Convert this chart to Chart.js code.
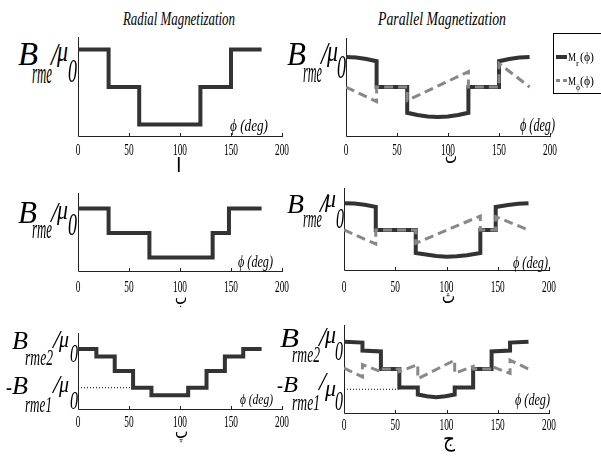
<!DOCTYPE html>
<html>
<head>
<meta charset="utf-8">
<script src="https://cdn.jsdelivr.net/npm/chart.js@4.4.0/dist/chart.umd.min.js"></script>
<style>
body { margin: 0; background: #fff; }
#fig { position: relative; width: 601px; height: 457px; overflow: hidden; background: #fff; }
canvas { position: absolute; }
.t { position: absolute; white-space: nowrap; line-height: 1; transform-origin: 0 0; font-family: 'Liberation Serif', serif; color: #000; }
</style>
</head>
<body>
<div id="fig"></div>
<script>
const xTicks = [0, 50, 100, 150, 200];

// radial magnetization, first case
const radPhiA = [0, 30, 30, 60, 60, 120, 120, 150, 150, 180];
const radBA = [1, 1, 0, 0, -1, -1, 0, 0, 1, 1];

// parallel magnetization, first case
const parPhiRA = [0, 10, 20, 30, 30, 60, 60, 70, 80, 90, 100, 110, 120, 120, 150, 150, 160, 170, 180];
const parMrA = [0.8, 0.79, 0.75, 0.69, 0, 0, -0.69, -0.75, -0.79, -0.8, -0.79, -0.75, -0.69, 0, 0, 0.69, 0.75, 0.79, 0.8];
const parPhiTA = [0, 30, 30, 60, 60, 120, 120, 150, 150, 180];
const parMtA = [0, -0.39, 0, 0, -0.36, 0.41, 0, 0, 0.63, 0];

// radial, second case
const radPhiB = [0, 30, 30, 70, 70, 132, 132, 148, 148, 180];
const radBB = [1, 1, 0, 0, -1, -1, 0, 0, 1, 1];

// parallel, second case
const parPhiRB = [0, 10, 20, 31, 31, 70, 70, 80, 90, 100, 110, 120, 133, 133, 148, 148, 160, 170, 180];
const parMrB = [1.09, 1.08, 1.03, 0.94, 0, 0, -0.94, -1.0, -1.06, -1.09, -1.07, -1.03, -0.94, 0, 0, 0.94, 1.02, 1.07, 1.09];
const parPhiTB = [0, 31, 31, 70, 70, 133, 133, 148, 148, 180];
const parMtB = [0, -0.57, 0, 0, -0.54, 0.57, 0, 0, 0.54, 0];

// radial, two level case
const radPhiC = [0, 18, 18, 36, 36, 54, 54, 72, 72, 108, 108, 126, 126, 144, 144, 162, 162, 180];
const radBC = [0.79, 0.79, 0.69, 0.69, 0.5, 0.5, 0.28, 0.28, 0.18, 0.18, 0.28, 0.28, 0.5, 0.5, 0.69, 0.69, 0.79, 0.79];
const refPhiC = [0, 54];
const refBC = [0.28, 0.28];

// parallel, two level case
const parPhiRC = [0, 18, 18, 36, 36, 54, 54, 72, 72, 81, 90, 99, 108, 108, 126, 126, 144, 144, 162, 162, 180];
const parMrC = [0.81, 0.8, 0.71, 0.7, 0.5, 0.5, 0.29, 0.29, 0.21, 0.19, 0.18, 0.19, 0.21, 0.29, 0.29, 0.5, 0.5, 0.7, 0.71, 0.8, 0.81];
const parPhiTC = [0, 18, 18, 36, 36, 54, 54, 72, 72, 108, 108, 126, 126, 144, 144, 162, 162, 180];
const parMtC = [0.51, 0.41, 0.55, 0.47, 0.5, 0.5, 0.47, 0.55, 0.39, 0.6, 0.45, 0.53, 0.5, 0.5, 0.53, 0.45, 0.6, 0.5];
const refPhiD = [0, 54];
const refBD = [0.27, 0.27];

const fig = document.getElementById('fig');

function pts(xs, ys) {
    return xs.map((x, i) => ({ x: x, y: ys[i] }));
}

function solid(xs, ys) {
    return { data: pts(xs, ys), borderColor: '#333', borderWidth: 4, borderJoinStyle: 'miter', borderCapStyle: 'butt', order: 2 };
}
function dashed(xs, ys) {
    return { data: pts(xs, ys), borderColor: '#888', borderWidth: 3, borderDash: [9, 5], borderCapStyle: 'butt', order: 1 };
}
function dotted(xs, ys) {
    return { data: pts(xs, ys), borderColor: '#000', borderWidth: 1, borderDash: [1, 2], order: 3 };
}

// text piece: left edge, baseline, font size, target width (squeezed like the original)
function txt(s, left, base, size, width, italic, family) {
    const e = document.createElement('span');
    e.className = 't';
    e.textContent = s;
    e.style.fontSize = size + 'px';
    if (italic) e.style.fontStyle = 'italic';
    if (family) e.style.fontFamily = family;
    e.style.left = left + 'px';
    e.style.top = (base - 0.8375 * size) + 'px';
    fig.appendChild(e);
    if (width) {
        const w = e.getBoundingClientRect().width;
        e.style.transform = 'scaleX(' + (width / w) + ')';
    }
    return e;
}

function axesPlugin(p) {
    return {
        id: 'axes',
        beforeDatasetsDraw(chart) {
            const ctx = chart.ctx;
            const a = chart.chartArea;
            const x = chart.scales.x;
            ctx.save();
            ctx.strokeStyle = '#222';
            ctx.lineWidth = 1;
            ctx.beginPath();
            ctx.moveTo(a.left + 0.5, a.top);
            ctx.lineTo(a.left + 0.5, a.bottom + 0.5);
            ctx.lineTo(x.getPixelForValue(200) + 1, a.bottom + 0.5);
            xTicks.forEach(v => {
                const px = Math.round(x.getPixelForValue(v)) + 0.5;
                ctx.moveTo(px, a.bottom);
                ctx.lineTo(px, a.bottom - 3);
            });
            ctx.stroke();
            ctx.fillStyle = '#000';
            ctx.font = '17px "Liberation Serif"';
            ctx.textAlign = 'center';
            xTicks.forEach(v => {
                ctx.save();
                ctx.translate(x.getPixelForValue(v), a.bottom + p.tickOff);
                ctx.scale(0.55, 1);
                ctx.fillText(String(v), 0, 0);
                ctx.restore();
            });
            ctx.restore();
        }
    };
}

function makePanel(p) {
    const padL = 6, padR = 10, padT = 4, padB = 26;
    const c = document.createElement('canvas');
    c.width = p.R - p.L + padL + padR;
    c.height = p.B - p.T + padT + padB;
    c.style.left = (p.L - padL) + 'px';
    c.style.top = (p.T - padT) + 'px';
    fig.appendChild(c);
    new Chart(c, {
        type: 'line',
        data: { datasets: p.sets },
        options: {
            responsive: false,
            animation: false,
            layout: { padding: { left: padL, right: padR, top: padT, bottom: padB } },
            plugins: { legend: { display: false }, tooltip: { enabled: false } },
            elements: { point: { radius: 0 }, line: { tension: 0 } },
            scales: {
                x: { type: 'linear', min: 0, max: 200, display: false },
                y: { min: p.yMin, max: p.yMax, display: false }
            }
        },
        plugins: [axesPlugin(p)]
    });
}

makePanel({ L: 78, R: 282, T: 37, B: 136, yMin: -1.31, yMax: 1.33, tickOff: 19,
    sets: [solid(radPhiA, radBA)] });
makePanel({ L: 346, R: 550, T: 38, B: 136, yMin: -1.31, yMax: 1.31, tickOff: 19,
    sets: [solid(parPhiRA, parMrA), dashed(parPhiTA, parMtA)] });
makePanel({ L: 78, R: 282, T: 193, B: 271, yMin: -1.55, yMax: 1.63, tickOff: 21,
    sets: [solid(radPhiB, radBB)] });
makePanel({ L: 344, R: 549, T: 188, B: 270, yMin: -1.63, yMax: 1.71, tickOff: 22,
    sets: [solid(parPhiRB, parMrB), dashed(parPhiTB, parMtB)] });
makePanel({ L: 78, R: 282, T: 333, B: 409, yMin: 0, yMax: 1, tickOff: 18,
    sets: [solid(radPhiC, radBC), dotted(refPhiC, refBC)] });
makePanel({ L: 344, R: 549, T: 325, B: 413, yMin: 0, yMax: 1, tickOff: 17,
    sets: [solid(parPhiRC, parMrC), dashed(parPhiTC, parMtC), dotted(refPhiD, refBD)] });

// titles
txt('Radial Magnetization', 123, 25, 18, 112, true);
txt('Parallel Magnetization', 378, 25, 18, 128, true);

// y axis labels
const yLabels = [
    ['B', 18, 65, 34, 20], ['rme', 32, 83, 30, 20], ['/', 51, 65, 32, 7], ['\u03bc', 57, 61, 30, 11], ['0', 68, 82, 34, 9],
    ['B', 287, 65, 34, 19], ['rme', 303, 82, 30, 19], ['/', 321, 64, 32, 7], ['\u03bc', 327, 61, 30, 11], ['0', 337, 78, 34, 9],
    ['B', 18, 223, 32, 19], ['rme', 32, 238, 28, 20], ['/', 51, 222, 30, 7], ['\u03bc', 57, 219, 28, 11], ['0', 68, 235, 32, 9],
    ['B', 287, 213, 28, 17], ['rme', 303, 228, 26, 19], ['/', 320, 212, 28, 7], ['\u03bc', 325, 208, 26, 11], ['0', 336, 228, 30, 8],
    ['B', 12, 350, 26, 16], ['rme2', 25, 365, 24, 28], ['/', 53, 349, 26, 7], ['\u03bc', 59, 347, 24, 10], ['0', 70, 363, 26, 8],
    ['-', 6, 395, 24, 6], ['B', 12, 395, 26, 16], ['rme1', 25, 412, 24, 27], ['/', 53, 394, 26, 7], ['\u03bc', 59, 392, 24, 10], ['0', 70, 410, 26, 8],
    ['B', 280, 347, 28, 19], ['rme2', 292, 362, 24, 28], ['/', 319, 346, 28, 7], ['\u03bc', 325, 344, 26, 11], ['0', 335, 360, 28, 8],
    ['-', 277, 392, 22, 6], ['B', 283, 392, 24, 15], ['rme1', 292, 410, 24, 28], ['/', 319, 391, 26, 7], ['\u03bc', 325, 396, 24, 11], ['0', 335, 410, 28, 8]
];
yLabels.forEach(l => txt(l[0], l[1], l[2], l[3], l[4], true));

// phi (deg) labels
const phiLabels = [[230, 131, 16, 38], [520, 131, 18, 35], [238, 267, 16, 35], [513, 268, 16, 35], [240, 405, 15, 33], [515, 405, 16, 35]];
phiLabels.forEach(l => txt('\u03d5 (deg)', l[0], l[1], l[2], l[3], true));

// case letters
const arFont = "'DejaVu Sans', sans-serif";
txt('\u0627', 176, 172, 20, 0, false, arFont);
txt('\u062a', 445, 163, 20, 12, false, arFont);
txt('\u0628', 175, 304, 20, 12, false, arFont);
txt('\u062b', 442, 303, 20, 13, false, arFont);
txt('\u067e', 175, 438, 20, 13, false, arFont);
txt('\u062c', 443, 446, 22, 12, false, arFont);

// legend
const box = document.createElement('div');
box.style.cssText = 'position:absolute;left:553px;top:33px;width:60px;height:61px;border:1px solid #000;box-sizing:border-box;';
fig.appendChild(box);
const s1 = document.createElement('div');
s1.style.cssText = 'position:absolute;left:556px;top:55px;width:11px;height:4px;background:#333;';
fig.appendChild(s1);
const s2 = document.createElement('div');
s2.style.cssText = 'position:absolute;left:556px;top:79px;width:4px;height:3px;background:#888;box-shadow:7px 0 0 #888;';
fig.appendChild(s2);
txt('M', 568, 61, 13, 8, false);
txt('r', 576, 67, 9, 3, false);
txt('(\u03d5)', 580, 61, 13, 14, false);
txt('M', 568, 85, 13, 8, false);
txt('\u03d5', 576, 91, 9, 4, false);
txt('(\u03d5)', 580, 85, 13, 14, false);
</script>
</body>
</html>
